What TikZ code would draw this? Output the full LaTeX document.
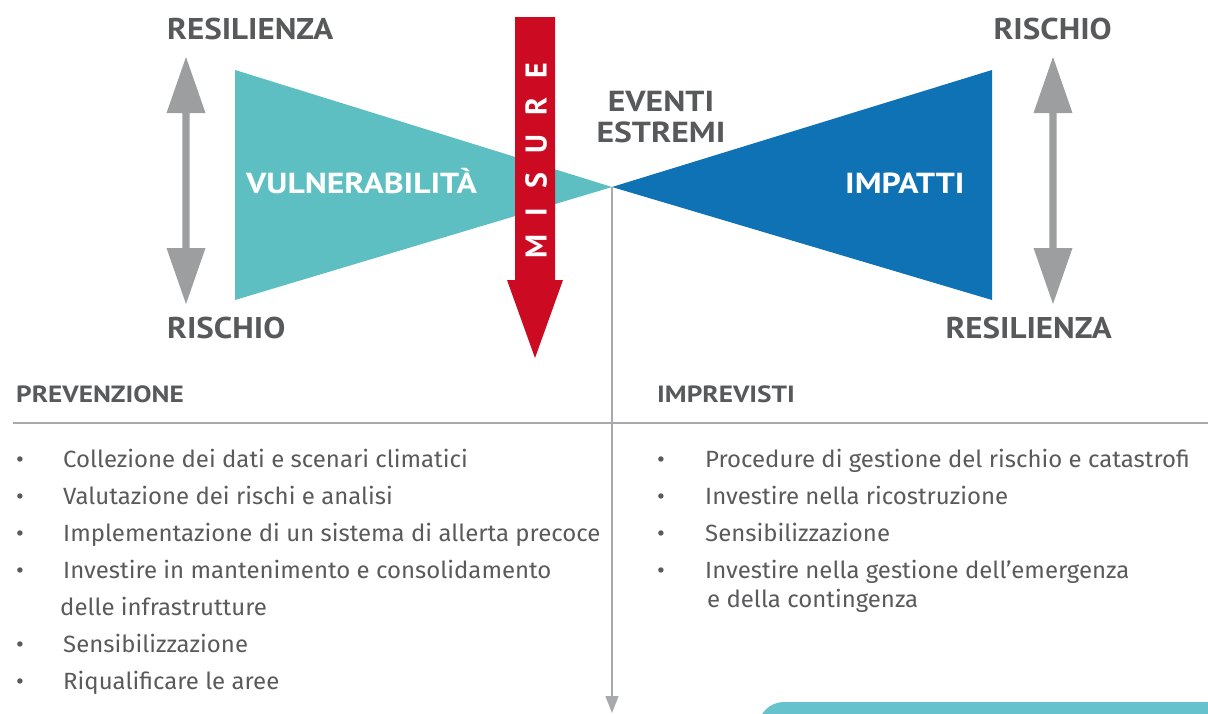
\documentclass[tikz,border=0pt]{standalone}
\usepackage{fontspec}
\setmainfont{Fira Sans}
\newfontfamily\listfont{Fira Sans}[FakeStretch=1.02]
\newfontfamily\headfont{PT Sans}[FakeStretch=1.1]
\newfontfamily\headfontw{PT Sans}[FakeStretch=1.16]
\newfontfamily\misfont{PT Sans}
\usetikzlibrary{arrows.meta}
\definecolor{tealc}{HTML}{5DBFC1}
\definecolor{bluec}{HTML}{0E72B5}
\definecolor{redc}{HTML}{CC0A21}
\definecolor{arrowgray}{HTML}{9D9EA0}
\definecolor{darkc}{HTML}{58595B}
\definecolor{listc}{HTML}{5A5A5C}
\definecolor{rulec}{HTML}{A7A9AC}
\definecolor{tealb}{HTML}{66C2CC}
\begin{document}
\begin{tikzpicture}[x=1pt,y=-1pt,
  bighead/.style={font=\headfont\bfseries\fontsize{30}{30}\selectfont, text=darkc, inner sep=0},
  midhead/.style={font=\headfontw\bfseries\fontsize{29}{29}\selectfont, text=darkc, inner sep=0, anchor=base},
  inhead/.style={font=\headfontw\bfseries\fontsize{29}{29}\selectfont, text=white, inner sep=0, anchor=base west},
  sechead/.style={font=\headfontw\bfseries\fontsize{23.5}{23.5}\selectfont, text=darkc, inner sep=0, anchor=base west},
  item/.style={font=\listfont\fontsize{23.5}{23.5}\selectfont, text=listc, inner sep=0, anchor=base west},
  bul/.style={font=\listfont\fontsize{23.5}{23.5}\selectfont, text=listc, inner sep=0, anchor=base},
  rulestyle/.style={draw=rulec, line width=1.3pt},
  vlinestyle/.style={draw=rulec, line width=1.3pt, -{Triangle[length=17pt,width=13pt]}}
]
\path[use as bounding box] (0,0) rectangle (1208,713);

% triangles
\fill[tealc] (235,70) -- (612,187) -- (235,300) -- cycle;
\fill[bluec] (992,70) -- (612,187) -- (992,300) -- cycle;

% gray double arrows
\foreach \cx in {186,1053} {
  \fill[arrowgray] (\cx,57) -- ({\cx+19.5},113) -- ({\cx+3.7},113) -- ({\cx+3.7},248)
    -- ({\cx+19.5},248) -- (\cx,304) -- ({\cx-19.5},248) -- ({\cx-3.7},248)
    -- ({\cx-3.7},113) -- ({\cx-19.5},113) -- cycle;
}

% red arrow
\fill[redc] (515,17) -- (555,17) -- (555,280) -- (563,280) -- (535,358) -- (507,280) -- (515,280) -- cycle;
\node[font=\misfont\bfseries\fontsize{30}{30}\selectfont, text=white, inner sep=0, rotate=90] (misure) at (536,161)
  {M\hspace{19pt}I\hspace{19pt}S\hspace{19pt}U\hspace{19pt}R\hspace{19pt}E};

% labels
\node[bighead, anchor=base west] (res1) at (167,39) {RESILIENZA};
\node[bighead, anchor=base west] (ris1) at (167,338) {RISCHIO};
\node[bighead, anchor=base east] (ris2) at (1112,39) {RISCHIO};
\node[bighead, anchor=base east] (res2) at (1112,338) {RESILIENZA};
\node[midhead] (ev1) at (661,111) {EVENTI};
\node[midhead] (ev2) at (661,142) {ESTREMI};
\node[inhead] (vul) at (246,193) {VULNERABILITÀ};
\node[inhead] (imp) at (845,193) {IMPATTI};

% separators
\coordinate (tip) at (612,187);
\coordinate (bot) at (612,713);
\coordinate (rl) at (13,423);
\coordinate (rr) at (1208,423);
\draw[rulestyle] (rl) -- (rr);
\draw[vlinestyle] (tip) -- (bot);

% bottom teal shape
\begin{scope}
\clip (0,0) rectangle (1208,713);
\fill[tealb, rounded corners=26pt] (758,702) rectangle (1260,790);
\end{scope}

% section headings
\node[sechead] (prev) at (16,402) {PREVENZIONE};
\node[sechead] (impr) at (657,402) {IMPREVISTI};

% left list
\node[bul] (lb1) at (20,467) {•};
\node[item] (l1) at (63,467) {Collezione dei dati e scenari climatici};
\node[bul] (lb2) at (20,504) {•};
\node[item] (l2) at (63,504) {Valutazione dei rischi e analisi};
\node[bul] (lb3) at (20,541) {•};
\node[item] (l3) at (63,541) {Implementazione di un sistema di allerta precoce};
\node[bul] (lb4) at (20,578) {•};
\node[item] (l4) at (63,578) {Investire in mantenimento e consolidamento};
\node[item] (l4b) at (60,615) {delle infrastrutture};
\node[bul] (lb5) at (20,652) {•};
\node[item] (l5) at (63,652) {Sensibilizzazione};
\node[bul] (lb6) at (20,689) {•};
\node[item] (l6) at (63,689) {Riqualificare le aree};

% right list
\node[bul] (rb1) at (661,467) {•};
\node[item] (r1) at (705,467) {Procedure di gestione del rischio e catastrofi};
\node[bul] (rb2) at (661,504) {•};
\node[item] (r2) at (705,504) {Investire nella ricostruzione};
\node[bul] (rb3) at (661,541) {•};
\node[item] (r3) at (705,541) {Sensibilizzazione};
\node[bul] (rb4) at (661,578) {•};
\node[item] (r4) at (705,578) {Investire nella gestione dell’emergenza};
\node[item] (r4b) at (707,607) {e della contingenza};
\end{tikzpicture}
\end{document}
